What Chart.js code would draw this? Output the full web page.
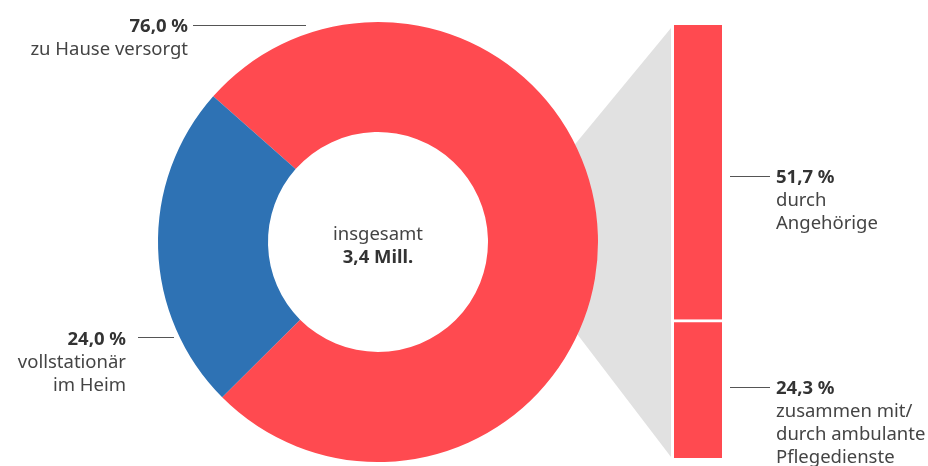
<!DOCTYPE html>
<html lang="de">

<head>
    <meta charset="UTF-8">
    <title>Pflegebedürftige nach Versorgungsart</title>
    <script src="https://cdn.jsdelivr.net/npm/chart.js@4.4.1/dist/chart.umd.min.js"></script>
    <style>
        body {
            margin: 0;
            background-color: #fff;
        }

        .wrap {
            position: relative;
            width: 928px;
            height: 466px;
        }

        .wrap canvas {
            position: absolute;
            left: 0;
            top: 0;
        }
    </style>
</head>

<body>
    <div class="wrap">
        <canvas id="barChart" width="928" height="466"></canvas>
        <canvas id="ringChart" width="756" height="466"></canvas>
    </div>

    <script>
        // Pflegebedürftige insgesamt, Anteile in %
        const mainLabels = [['zu Hause versorgt'], ['vollstationär', 'im Heim']];
        const mainValues = [76.0, 24.0];
        const mainColors = ['#ff4a50', '#2e72b4'];

        // davon zu Hause versorgt
        const homeLabels = [['durch', 'Angehörige'], ['zusammen mit/', 'durch ambulante', 'Pflegedienste']];
        const homeValues = [51.7, 24.3];

        const totalText = ['insgesamt', '3,4 Mill.'];

        const FONT = '"Noto Sans", sans-serif';
        const fmt = v => v.toFixed(1).replace('.', ',') + ' %';

        function drawLabel(ctx, x, y, value, lines, align) {
            ctx.save();
            ctx.textAlign = align;
            ctx.textBaseline = 'alphabetic';
            ctx.fillStyle = '#333';
            ctx.font = 'bold 18.5px ' + FONT;
            ctx.fillText(fmt(value), x, y);
            ctx.fillStyle = '#444';
            ctx.font = '18.5px ' + FONT;
            lines.forEach((t, i) => ctx.fillText(t, x, y + 23 * (i + 1)));
            ctx.restore();
        }

        function leader(ctx, x1, x2, y) {
            ctx.save();
            ctx.strokeStyle = '#555';
            ctx.lineWidth = 1;
            ctx.beginPath();
            ctx.moveTo(x1, Math.round(y) + 0.5);
            ctx.lineTo(x2, Math.round(y) + 0.5);
            ctx.stroke();
            ctx.restore();
        }

        // stacked bar: bottom segment first
        const barLabels = {
            id: 'barLabels',
            afterDraw(chart) {
                const ctx = chart.ctx;
                homeValues.forEach((v, i) => {
                    const el = chart.getDatasetMeta(1 - i).data[0];
                    const mid = (el.y + el.base) / 2 + (i === 0 ? 4 : -2);
                    leader(ctx, el.x + el.width / 2 + 8, el.x + el.width / 2 + 48, mid);
                    drawLabel(ctx, el.x + el.width / 2 + 54, mid + 7, v, homeLabels[i], 'left');
                });
            }
        };

        const barChart = new Chart(document.getElementById('barChart'), {
            type: 'bar',
            data: {
                labels: ['zu Hause'],
                datasets: [{
                    data: [homeValues[1]],
                    backgroundColor: mainColors[0],
                    borderColor: '#fff',
                    borderWidth: { top: 3, left: 0, right: 0, bottom: 0 },
                    borderSkipped: false
                }, {
                    data: [homeValues[0]],
                    backgroundColor: mainColors[0],
                    borderWidth: 0
                }]
            },
            options: {
                responsive: false,
                animation: false,
                layout: {
                    padding: { left: 674, right: 206, top: 25, bottom: 8 }
                },
                scales: {
                    x: { stacked: true, display: false },
                    y: { stacked: true, display: false, min: 0, max: mainValues[0] }
                },
                datasets: {
                    bar: { barPercentage: 1, categoryPercentage: 1 }
                },
                plugins: {
                    legend: { display: false },
                    tooltip: { enabled: false }
                }
            },
            plugins: [barLabels]
        });

        const ringExtras = {
            id: 'ringExtras',
            beforeDatasetsDraw(chart) {
                // grey connector from the ring to the bar
                const arc = chart.getDatasetMeta(0).data[0];
                const bar1 = barChart.getDatasetMeta(1).data[0];
                const bar0 = barChart.getDatasetMeta(0).data[0];
                const left = bar1.x - bar1.width / 2 - 3;
                const r = arc.outerRadius * 0.9;
                const a1 = -23.5 * Math.PI / 180, a2 = 21.5 * Math.PI / 180;
                const ctx = chart.ctx;
                ctx.save();
                ctx.fillStyle = '#e1e1e1';
                ctx.beginPath();
                ctx.moveTo(arc.x + r * Math.cos(a1), arc.y + r * Math.sin(a1));
                ctx.lineTo(left, bar1.y + 3);
                ctx.lineTo(left, bar0.base - 1);
                ctx.lineTo(arc.x + r * Math.cos(a2), arc.y + r * Math.sin(a2));
                ctx.closePath();
                ctx.fill();
                ctx.restore();
            },
            afterDraw(chart) {
                const ctx = chart.ctx;
                const arc = chart.getDatasetMeta(0).data[0];
                const cx = arc.x, cy = arc.y;

                // centre text
                ctx.save();
                ctx.textAlign = 'center';
                ctx.fillStyle = '#444';
                ctx.font = '18.5px ' + FONT;
                ctx.fillText(totalText[0], cx, cy - 2);
                ctx.fillStyle = '#333';
                ctx.font = 'bold 18.5px ' + FONT;
                ctx.fillText(totalText[1], cx, cy + 21);
                ctx.restore();

                // zu Hause versorgt
                leader(ctx, cx - 185, cx - 72, cy - 217);
                drawLabel(ctx, cx - 190, cy - 210, mainValues[0], mainLabels[0], 'right');
                // vollstationär
                leader(ctx, cx - 240, cx - 204, cy + 95);
                drawLabel(ctx, cx - 252, cy + 103, mainValues[1], mainLabels[1], 'right');
            }
        };

        new Chart(document.getElementById('ringChart'), {
            type: 'doughnut',
            data: {
                labels: mainLabels.map(l => l.join(' ')),
                datasets: [{
                    data: mainValues,
                    backgroundColor: mainColors,
                    borderWidth: 0
                }]
            },
            options: {
                responsive: false,
                animation: false,
                cutout: '50%',
                rotation: -48.5,
                layout: {
                    padding: { left: 0, right: 0, top: 22, bottom: 4 }
                },
                plugins: {
                    legend: { display: false },
                    tooltip: { enabled: false }
                }
            },
            plugins: [ringExtras]
        });
    </script>

</body>

</html>
